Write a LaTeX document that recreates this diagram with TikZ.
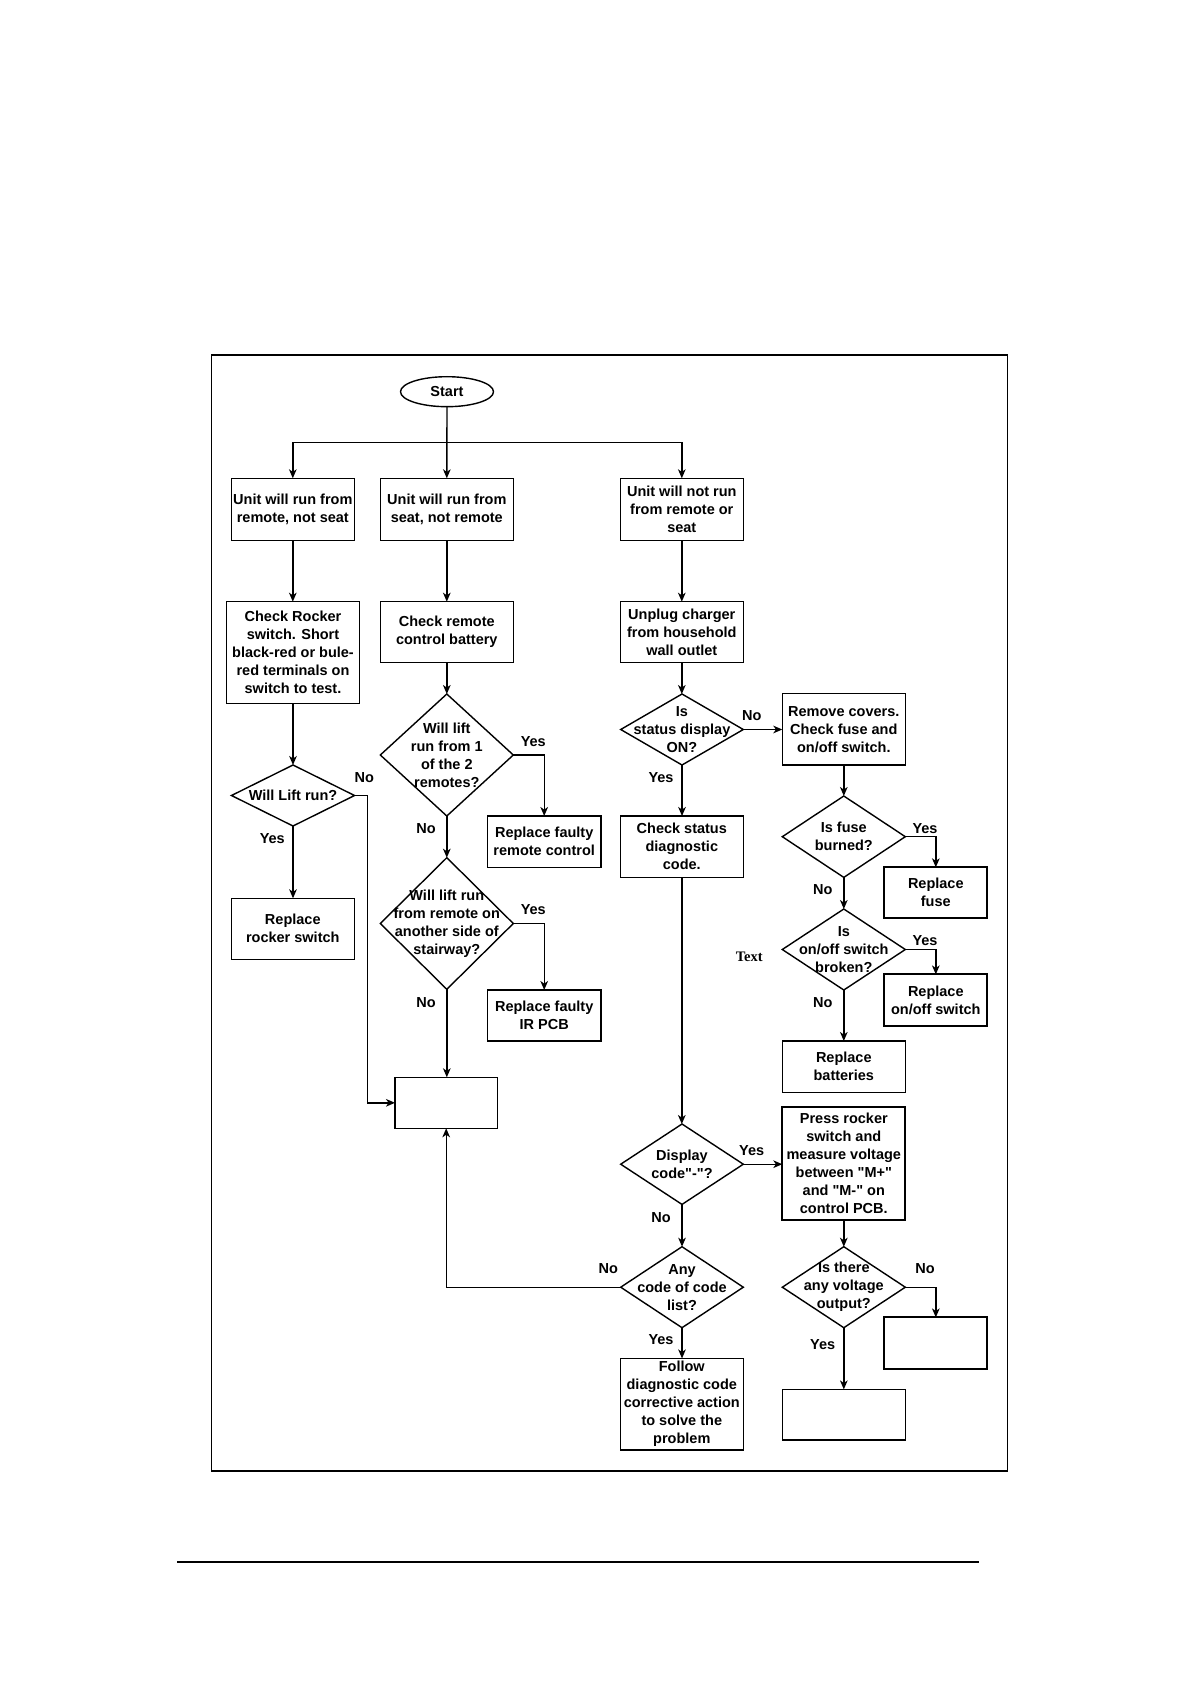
\documentclass[tikz,border=0pt]{standalone}
\usepackage{fontspec}
\setmainfont{Liberation Sans}[Ligatures=TeXOff]
\newfontfamily\serifface{Liberation Serif}
\usetikzlibrary{shapes.geometric,arrows.meta}
\begin{document}
\begin{tikzpicture}[x=0.5pt,y=-0.5pt,
  every node/.style={font=\fontsize{7.25}{9}\selectfont\bfseries, inner sep=0pt, outer sep=0pt},
  box/.style={draw, line width=0.7pt, rectangle, align=center},
  thbox/.style={box, line width=1.05pt},
  dia/.style={draw, line width=0.7pt, diamond},
  txt/.style={align=center},
  lbl/.style={},
  arr/.style={line width=0.7pt, -{Stealth[length=4.5pt,width=3.8pt,inset=1.3pt]}},
  ln/.style={line width=0.7pt}]
\useasboundingbox (0,0) rectangle (1190,1684);
\draw[line width=0.7pt] (211.7,355) rectangle (1007.3,1471);
\draw[line width=1.3pt] (177,1562) -- (979,1562);

% nodes
\node[draw, line width=0.7pt, ellipse, minimum width=46.5pt, minimum height=15pt] (start) at (447,391.7) {};
\node[txt] at (start) {Start};

\node[box, minimum width=61.5pt, minimum height=31pt] (b1) at (292.8,509.3) {Unit will run from\\remote, not seat};
\node[box, minimum width=66.5pt, minimum height=31pt] (b2) at (446.8,509.3) {Unit will run from\\seat, not remote};
\node[box, minimum width=61.5pt, minimum height=31pt] (b3) at (681.8,509.3) {Unit will not run\\from remote or\\seat};

\node[box, minimum width=66.3pt, minimum height=50.8pt] (rocker) at (293,652.5) {Check Rocker\\switch. Short\\black-red or bule-\\red terminals on\\switch to test.};
\node[box, minimum width=66.5pt, minimum height=30.3pt] (battery) at (446.8,632) {Check remote\\control battery};
\node[box, minimum width=61.5pt, minimum height=30.3pt] (unplug) at (681.8,632) {Unplug charger\\from household\\wall outlet};

\node[dia, minimum width=61.5pt, minimum height=30.5pt] (dlift) at (293,795.5) {};
\node[txt] at (dlift) {Will Lift run?};
\node[dia, minimum width=66.5pt, minimum height=61pt] (drem) at (446.8,755) {};
\node[txt] at (drem) {Will lift\\run from 1\\of the 2\\remotes?};
\node[dia, minimum width=61.3pt, minimum height=35.5pt] (dstatus) at (682,729.5) {};
\node[txt] at (dstatus) {Is\\status display\\ON?};
\node[box, minimum width=61.5pt, minimum height=35.8pt] (covers) at (843.8,729.2) {Remove covers.\\Check fuse and\\on/off switch.};

\node[box, minimum width=61.5pt, minimum height=30.5pt] (replrocker) at (292.8,928.8) {Replace\\rocker switch};
\node[box, minimum width=56.8pt, minimum height=25.7pt] (replremote) at (544.2,841.7) {Replace faulty\\remote control};
\node[dia, minimum width=66.5pt, minimum height=65.8pt] (dstair) at (446.8,923.5) {};
\node[txt] at (dstair) {Will lift run\\from remote on\\another side of\\stairway?};
\node[box, minimum width=56.8pt, minimum height=25.5pt] (replir) at (544.2,1015.5) {Replace faulty\\IR PCB};
\node[box, minimum width=51.2pt, minimum height=25.5pt] (empty1) at (446.2,1102.8) {};

\node[box, minimum width=61.5pt, minimum height=30.7pt] (checkstatus) at (681.8,846.7) {Check status\\diagnostic\\code.};
\node[dia, minimum width=61.5pt, minimum height=40.7pt] (dfuse) at (843.8,836.7) {};
\node[txt] at (dfuse) {Is fuse\\burned?};
\node[thbox, minimum width=51.5pt, minimum height=25.5pt] (replfuse) at (935.8,892.8) {Replace\\fuse};
\node[dia, minimum width=61.5pt, minimum height=40.5pt] (donoff) at (843.8,949.5) {};
\node[txt] at (donoff) {Is\\on/off switch\\broken?};
\node[thbox, minimum width=51.5pt, minimum height=25.8pt] (reploff) at (935.8,1000.2) {Replace\\on/off switch};
\node[box, minimum width=61.5pt, minimum height=25.7pt] (replbatt) at (843.8,1066.7) {Replace\\batteries};

\node[dia, minimum width=61.3pt, minimum height=40.2pt] (ddisplay) at (682,1164.2) {};
\node[txt] at (ddisplay) {Display\\code"-"?};
\node[thbox, minimum width=61.5pt, minimum height=56.3pt] (press) at (843.8,1163.7) {Press rocker\\switch and\\measure voltage\\between "M+"\\and "M-" on\\control PCB.};
\node[dia, minimum width=61.3pt, minimum height=40.5pt] (dany) at (682,1287.2) {};
\node[txt] at (dany) {Any\\code of code\\list?};
\node[box, minimum width=61.5pt, minimum height=45.8pt] (follow) at (681.8,1404.2) {Follow\\diagnostic code\\corrective action\\to solve the\\problem};
\node[dia, minimum width=61.5pt, minimum height=40.5pt] (dvolt) at (843.8,1287.2) {};
\node[txt] at (dvolt) {Is there\\any voltage\\output?};
\node[thbox, minimum width=51.5pt, minimum height=25.8pt] (empty2) at (935.8,1343.2) {};
\node[box, minimum width=61.5pt, minimum height=25.3pt] (empty3) at (843.8,1414.7) {};

% labels
\node[lbl] at (364.3,777.3) {No};
\node[lbl] at (272.3,838.3) {Yes};
\node[lbl] at (533.3,741.7) {Yes};
\node[lbl] at (426,828.3) {No};
\node[lbl] at (533.3,910) {Yes};
\node[lbl] at (426,1002.3) {No};
\node[lbl] at (751.7,715.7) {No};
\node[lbl] at (661,777.3) {Yes};
\node[lbl] at (925,828.3) {Yes};
\node[lbl] at (822.7,890) {No};
\node[lbl] at (925,941) {Yes};
\node[font=\serifface\fontsize{7.25}{9}\selectfont\bfseries] at (749.3,956.7) {Text};
\node[lbl] at (822.7,1002.3) {No};
\node[lbl] at (751.7,1150.7) {Yes};
\node[lbl] at (661,1217.3) {No};
\node[lbl] at (608.3,1268.3) {No};
\node[lbl] at (661,1340) {Yes};
\node[lbl] at (925,1268.3) {No};
\node[lbl] at (822.7,1345) {Yes};

% connectors
\coordinate (split) at (447,442.3);
\draw[arr] (start.south) -- (b2.north);
\draw[arr] (split) -| (b1.north);
\draw[arr] (split) -| (b3.north);

\draw[arr] (b1.south) -- (b1.south |- rocker.north);
\draw[arr] (rocker.south) -- (rocker.south |- dlift.north);
\draw[arr] (dlift.south) -- (dlift.south |- replrocker.north);
\draw[arr] (dlift.east) -- ++(13,0) |- (empty1.west);

\draw[arr] (b2.south) -- (battery.north);
\draw[arr] (battery.south) -- (drem.north);
\draw[arr] (drem.east) -| (replremote.north);
\draw[arr] (drem.south) -- (dstair.north);
\draw[arr] (dstair.east) -| (replir.north);
\draw[arr] (dstair.south) -- (dstair.south |- empty1.north);

\draw[arr] (b3.south) -- (unplug.north);
\draw[arr] (unplug.south) -- (unplug.south |- dstatus.north);
\draw[arr] (dstatus.east) -- (dstatus.east -| covers.west);
\draw[arr] (dstatus.south) -- (dstatus.south |- checkstatus.north);
\draw[arr] (covers.south) -- (dfuse.north);
\draw[arr] (dfuse.east) -| (replfuse.north);
\draw[arr] (dfuse.south) -- (donoff.north);
\draw[arr] (donoff.east) -| (reploff.north);
\draw[arr] (donoff.south) -- (replbatt.north);

\draw[arr] (checkstatus.south) -- (checkstatus.south |- ddisplay.north);
\draw[arr] (ddisplay.east) -- (ddisplay.east -| press.west);
\draw[arr] (ddisplay.south) -- (dany.north);
\draw[arr] (dany.west) -| (empty1.south);
\draw[arr] (dany.south) -- (dany.south |- follow.north);
\draw[arr] (press.south) -- (dvolt.north);
\draw[arr] (dvolt.east) -| (empty2.north);
\draw[arr] (dvolt.south) -- (empty3.north);
\end{tikzpicture}
\end{document}
